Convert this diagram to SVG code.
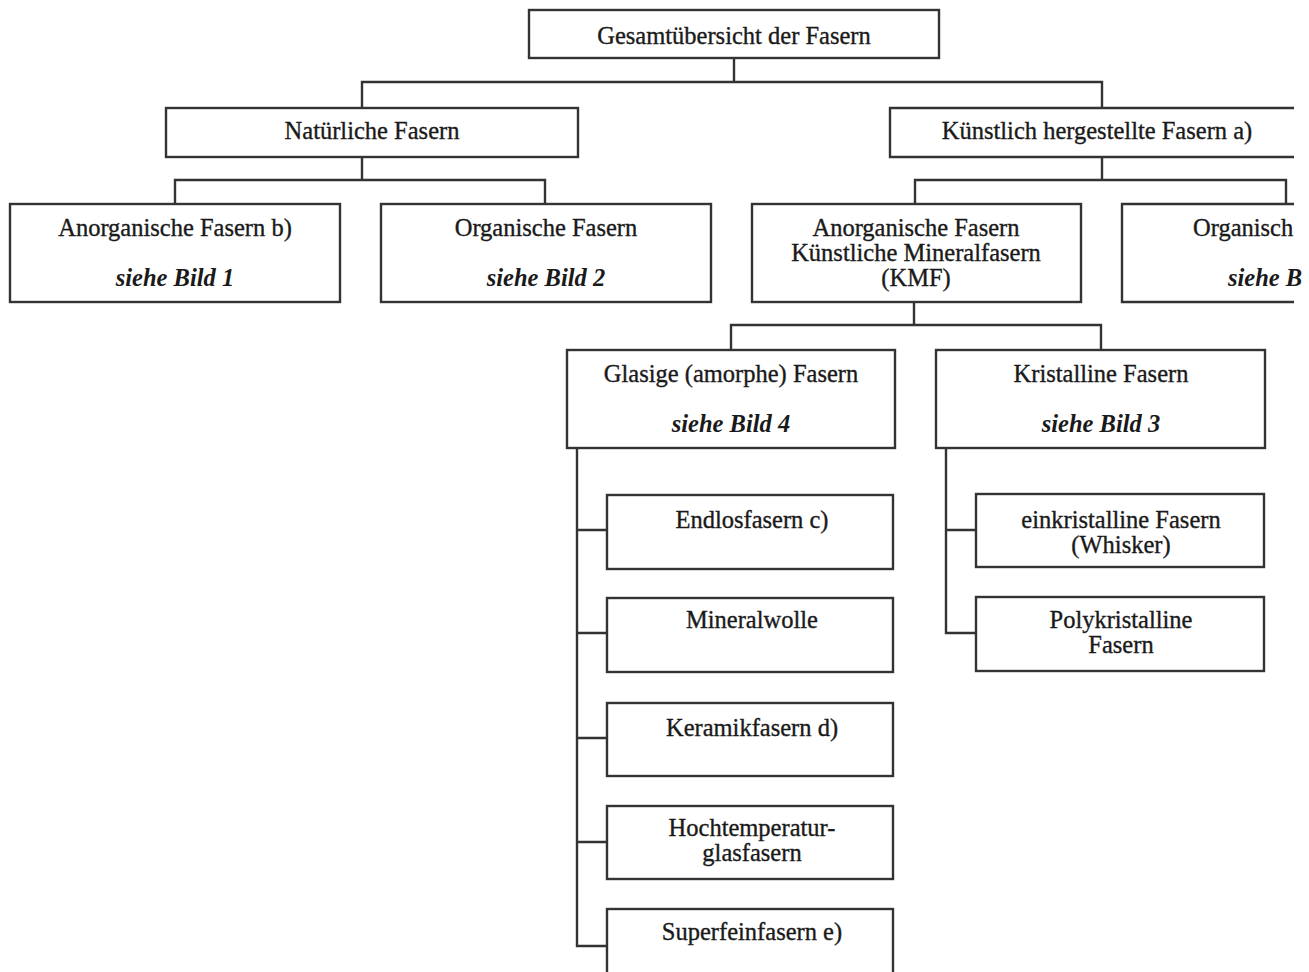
<svg xmlns="http://www.w3.org/2000/svg" width="1309" height="972" viewBox="0 0 1309 972">
<style>
.box{fill:#fff;stroke:#333;stroke-width:2.4}
.cn{fill:none;stroke:#333;stroke-width:2.4}
text{font-family:"Liberation Serif","Times New Roman",serif;font-size:24.5px;fill:#1a1a1a;stroke:#1a1a1a;stroke-width:0.35;text-anchor:middle}
.it{font-style:italic;font-weight:bold;stroke-width:0}
</style>
<rect width="1309" height="972" fill="#fff"/>
<g id="connectors">
<path class="cn" d="M734,58V82M362,108V82H1102V108"/>
<path class="cn" d="M362,157V180M175,204V180H545V204"/>
<path class="cn" d="M1102,157V180M915,204V180H1286V204"/>
<path class="cn" d="M914,302V325M731,350V325H1101V350"/>
<path class="cn" d="M577,448V946H607M577,530H607M577,633H607M577,738H607M577,842H607"/>
<path class="cn" d="M946,448V633H976M946,530H976"/>
</g>
<g id="n-root"><rect class="box" x="529" y="10" width="410" height="48"/><text x="734" y="44">Gesamtübersicht der Fasern</text></g>
<g id="n-natuerlich"><rect class="box" x="166" y="108" width="412" height="49"/><text x="372" y="139">Natürliche Fasern</text></g>
<g id="n-kuenstlich"><path class="box" d="M1294,108H890V157H1294"/><text x="1097" y="139">Künstlich hergestellte Fasern a)</text></g>
<g id="n-nat-anorg"><rect class="box" x="10" y="204" width="330" height="98"/><text x="175" y="236">Anorganische Fasern b)</text><text class="it" x="175" y="286">siehe Bild 1</text></g>
<g id="n-nat-org"><rect class="box" x="381" y="204" width="330" height="98"/><text x="546" y="236">Organische Fasern</text><text class="it" x="546" y="286">siehe Bild 2</text></g>
<g id="n-kmf"><rect class="box" x="752" y="204" width="329" height="98"/><text x="916" y="236">Anorganische Fasern</text><text x="916" y="261">Künstliche Mineralfasern</text><text x="916" y="286">(KMF)</text></g>
<g id="n-k-org"><path class="box" d="M1294,204H1122V302H1294"/><text x="1193" y="236" style="text-anchor:start">Organisch</text><text class="it" x="1228" y="286" style="text-anchor:start">siehe B</text></g>
<g id="n-glasig"><rect class="box" x="567" y="350" width="328" height="98"/><text x="731" y="382">Glasige (amorphe) Fasern</text><text class="it" x="731" y="432">siehe Bild 4</text></g>
<g id="n-kristallin"><rect class="box" x="936" y="350" width="329" height="98"/><text x="1101" y="382">Kristalline Fasern</text><text class="it" x="1101" y="432">siehe Bild 3</text></g>
<g id="n-endlos"><rect class="box" x="607" y="495" width="286" height="74"/><text x="752" y="528">Endlosfasern c)</text></g>
<g id="n-mineralwolle"><rect class="box" x="607" y="598" width="286" height="74"/><text x="752" y="628">Mineralwolle</text></g>
<g id="n-keramik"><rect class="box" x="607" y="703" width="286" height="73"/><text x="752" y="736">Keramikfasern d)</text></g>
<g id="n-hochtemp"><rect class="box" x="607" y="806" width="286" height="73"/><text x="752" y="836">Hochtemperatur-</text><text x="752" y="861">glasfasern</text></g>
<g id="n-superfein"><rect class="box" x="607" y="909" width="286" height="80"/><text x="752" y="940">Superfeinfasern e)</text></g>
<g id="n-einkristallin"><rect class="box" x="976" y="494" width="288" height="73"/><text x="1121" y="528">einkristalline Fasern</text><text x="1121" y="553">(Whisker)</text></g>
<g id="n-polykristallin"><rect class="box" x="976" y="597" width="288" height="74"/><text x="1121" y="628">Polykristalline</text><text x="1121" y="653">Fasern</text></g>
</svg>
